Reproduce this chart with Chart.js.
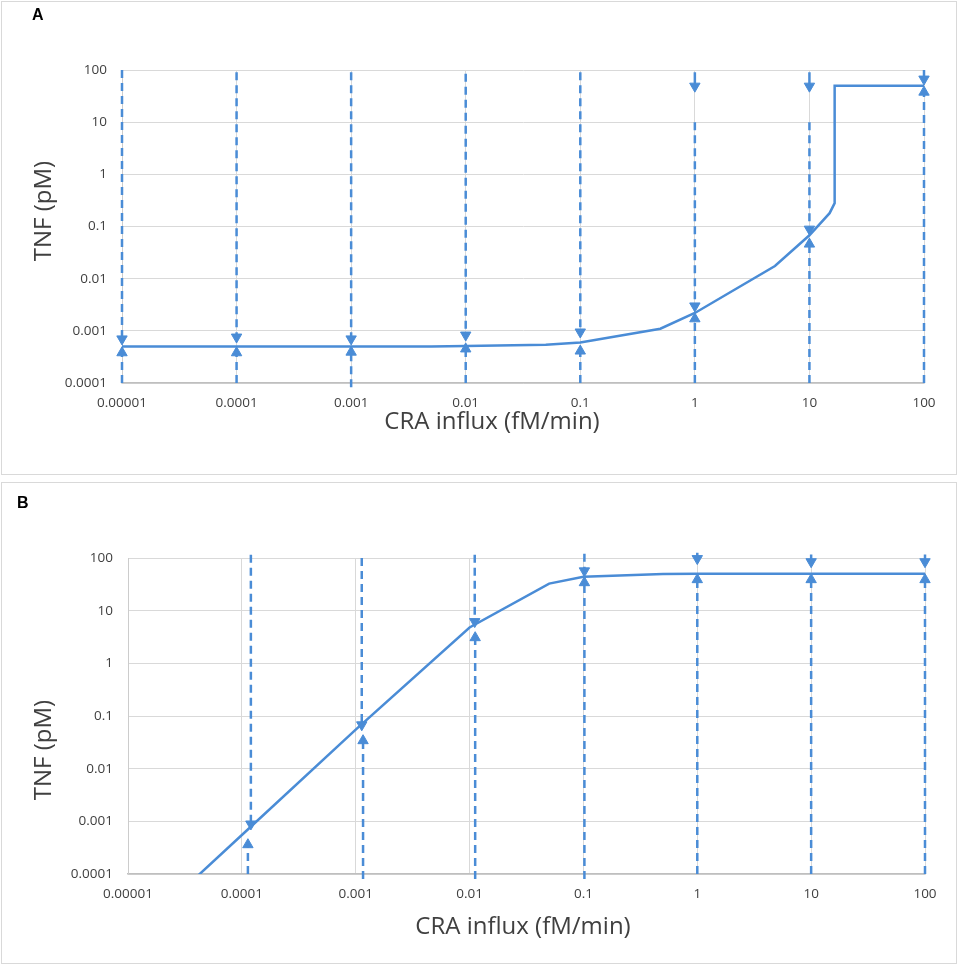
<!DOCTYPE html>
<html>
<head>
<meta charset="utf-8">
<script src="https://cdn.jsdelivr.net/npm/chart.js@4.4.1/dist/chart.umd.min.js"></script>
<style>
  html, body { margin: 0; padding: 0; background: #fff; }
  body { position: relative; width: 958px; height: 964px; overflow: hidden; font-family: "Open Sans", sans-serif; color: #404040; }
  .box { position: absolute; left: 1px; width: 956px; border: 1px solid #d9d9d9; box-sizing: border-box; }
  canvas { position: absolute; left: 0; }
  .tag { position: absolute; font: bold 16px/16px "Liberation Sans", Arial, sans-serif; color: #000; }
  .ttl { position: absolute; font-size: 24px; line-height: 24px; white-space: nowrap; transform: translate(-50%, 0); }
  .ttl.v { transform: translate(-50%, -50%) rotate(-90deg); }
</style>
</head>
<body>
<div class="box" style="top:1px;height:474px"></div>
<div class="box" style="top:482px;height:482px"></div>
<canvas id="chartA" width="958" height="478" style="top:0"></canvas>
<canvas id="chartB" width="958" height="484" style="top:480px"></canvas>
<div class="tag" style="left:32px;top:7px">A</div>
<div class="tag" style="left:17px;top:495px">B</div>
<div class="ttl" style="left:492px;top:408px">CRA influx (fM/min)</div>
<div class="ttl v" style="left:42px;top:211px">TNF (pM)</div>
<div class="ttl" style="left:523px;top:913px">CRA influx (fM/min)</div>
<div class="ttl v" style="left:42px;top:750px">TNF (pM)</div>
<script>
const BLUE = '#4a8cd6';
const TICK_FONT = { family: 'Open Sans', size: 13.5 };

const xTicks = [1e-5, 1e-4, 1e-3, 1e-2, 1e-1, 1, 10, 100];
const xTickLabels = ['0.00001', '0.0001', '0.001', '0.01', '0.1', '1', '10', '100'];
const yTicks = [1e-4, 1e-3, 1e-2, 1e-1, 1, 10, 100];
const yTickLabels = ['0.0001', '0.001', '0.01', '0.1', '1', '10', '100'];

// panel A - steady state TNF vs CRA influx
const craA = [1e-5, 1e-4, 1e-3, 5e-3, 1e-2, 5e-2, 0.1, 0.5, 1, 5, 10, 15, 16.6, 16.6, 100];
const tnfA = [0.0005, 0.0005, 0.0005, 0.0005, 0.00051, 0.00054, 0.0006, 0.0011, 0.0022, 0.0175, 0.068, 0.18, 0.28, 50, 50];

// panel A - arrows (start value, arrow head value)
const downXA = [1e-5, 1e-4, 1e-3, 1e-2, 1e-1, 1, 10];
const downFromA = [100, 91, 91, 85, 91, 10, 10];
const downHeadA = [0.0007, 0.00076, 0.0007, 0.00083, 0.00095, 0.003, 0.089];
const shortXA = [1, 10, 100];
const shortFromA = [91, 91, 100];
const shortHeadA = [49, 49, 67];
const upXA = [1e-5, 1e-4, 1e-3, 1e-2, 1e-1, 1, 10, 100];
const upFromA = [0.0001, 0.0001, 0.000083, 0.0001, 0.0001, 0.0001, 0.0001, 0.0001];
const upHeadA = [0.00038, 0.00038, 0.00039, 0.00045, 0.00041, 0.0017, 0.046, 37.6];

// panel B
const craB = [1e-5, 1e-4, 1e-3, 1e-2, 5e-2, 0.1, 0.5, 1, 5, 10, 50, 100];
const tnfB = [5.5e-6, 0.00055, 0.055, 4.8, 32.6, 44, 49.5, 50, 50, 50, 50, 50];

const downXB = [1.2e-4, 1.13e-3, 1.11e-2, 0.102];
const downFromB = [115, 100, 115, 120];
const downHeadB = [0.00089, 0.068, 6.2, 57];
const shortXB = [1, 10, 100];
const shortFromB = [126, 116, 116];
const shortHeadB = [97.5, 85, 85];
const upXB = [1.13e-4, 1.16e-3, 1.12e-2, 0.102, 1, 10, 100];
const upFromB = [0.0001, 0.00008, 0.00008, 0.00008, 0.0001, 0.0001, 0.0001];
const upHeadB = [0.00036, 0.034, 3.07, 34, 38.8, 38.8, 38.8];

function arrows(xs, from, head, rot, dash) {
  const pts = [];
  xs.forEach((x, i) => {
    pts.push({ x: x, y: from[i] }, { x: x, y: head[i] }, { x: x, y: null });
  });
  return {
    data: pts,
    borderColor: BLUE,
    borderWidth: 2.5,
    borderDash: dash,
    spanGaps: false,
    clip: false,
    pointStyle: 'triangle',
    pointRotation: rot,
    pointRadius: c => (c.dataIndex % 3 === 1 ? 6 : 0),
    pointHoverRadius: c => (c.dataIndex % 3 === 1 ? 6 : 0),
    pointBackgroundColor: BLUE,
    pointBorderColor: BLUE,
    pointBorderWidth: 1
  };
}

function curve(xs, ys) {
  return {
    data: xs.map((x, i) => ({ x: x, y: ys[i] })),
    borderColor: BLUE,
    borderWidth: 2.5,
    pointRadius: 0,
    tension: 0
  };
}

function scales(yWidth, xHeight) {
  return {
    x: {
      type: 'logarithmic', min: 1e-5, max: 100,
      afterBuildTicks: s => { s.ticks = xTicks.map(v => ({ value: v })); },
      afterFit: s => { s.height = xHeight; },
      grid: { color: '#d9d9d9', drawTicks: false },
      border: { color: '#bfbfbf', width: 1.5 },
      ticks: { autoSkip: false, maxRotation: 0, padding: 12, color: '#404040', font: TICK_FONT,
               callback: (v, i) => xTickLabels[i] }
    },
    y: {
      type: 'logarithmic', min: 1e-4, max: 100,
      afterBuildTicks: s => { s.ticks = yTicks.map(v => ({ value: v })); },
      afterFit: s => { s.width = yWidth; },
      grid: { color: '#d9d9d9', drawTicks: false },
      border: { color: '#cccccc', width: 1 },
      ticks: { autoSkip: false, padding: 15, color: '#404040', font: TICK_FONT,
               callback: (v, i) => yTickLabels[i] }
    }
  };
}

function makeChart(id, datasets, pad, yWidth, xHeight) {
  return new Chart(document.getElementById(id), {
    type: 'line',
    data: { datasets: datasets },
    options: {
      responsive: false,
      animation: false,
      events: [],
      layout: { padding: pad },
      plugins: { legend: { display: false }, tooltip: { enabled: false } },
      scales: scales(yWidth, xHeight)
    }
  });
}

makeChart('chartA', [
  arrows(downXA, downFromA, downHeadA, 180, [8, 5]),
  arrows(shortXA, shortFromA, shortHeadA, 180, []),
  arrows(upXA, upFromA, upHeadA, 0, [8, 5]),
  curve(craA, tnfA)
], { top: 70, right: 34, bottom: 0, left: 0 }, 122, 95);

makeChart('chartB', [
  arrows(downXB, downFromB, downHeadB, 180, [8, 5]),
  arrows(shortXB, shortFromB, shortHeadB, 180, []),
  arrows(upXB, upFromB, upHeadB, 0, [8, 5]),
  curve(craB, tnfB)
], { top: 78, right: 33, bottom: 0, left: 0 }, 128, 90);
</script>
</body>
</html>
